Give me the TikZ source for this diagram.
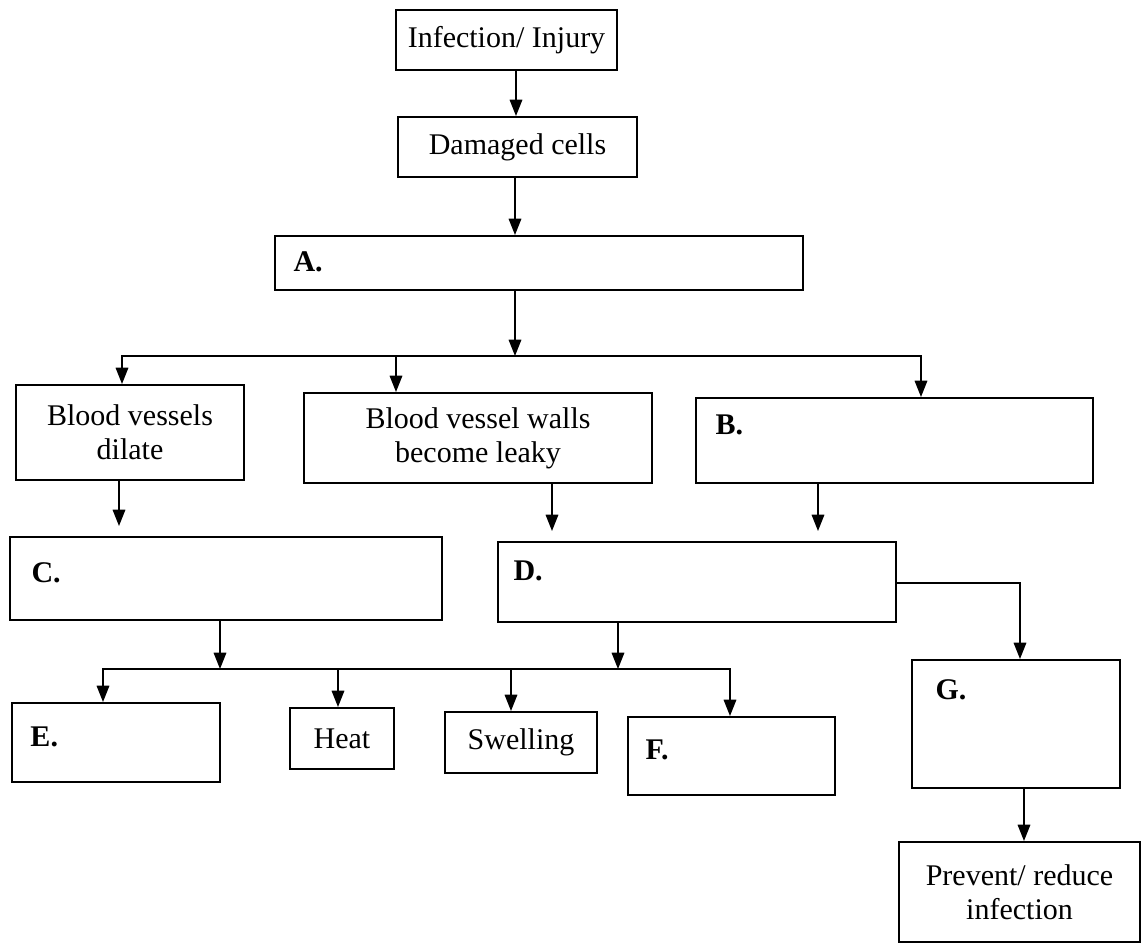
\documentclass[tikz,border=0pt]{standalone}
\usepackage{fontspec}
\setmainfont{Liberation Serif}
\usetikzlibrary{calc}
\usetikzlibrary{fit}
\usetikzlibrary{arrows.meta}
\tikzset{
	box/.style={draw, line width=0.8pt, inner sep=0pt},
	txt/.style={align=center, inner sep=0pt, font=\fontsize{12}{13.5}\selectfont},
	tag/.style={anchor=west, inner sep=0pt, font=\fontsize{12}{13.5}\selectfont\bfseries},
	flow/.style={line width=0.7pt, -{Triangle[length=6.5pt,width=5pt]}},
	bus/.style={line width=0.7pt},
}

\begin{document}
\begin{tikzpicture}[x=0.4pt,y=-0.4pt]
		\useasboundingbox (0,0) rectangle (1142,945);
		% boxes
		\node[box, fit={(396,10) (617,70)}, label={[txt]center:Infection/ Injury}] (inf) {};
		\node[box, fit={(398,117) (637,177)}, label={[txt]center:Damaged cells}] (dmg) {};
		\node[box, fit={(275,236) (803,290)}] (A) {};
		\node[box, fit={(16,385) (244,480)}, label={[txt]center:Blood vessels\\dilate}] (bv) {};
		\node[box, fit={(304,393) (652,483)}, label={[txt]center:Blood vessel walls\\become leaky}] (wl) {};
		\node[box, fit={(696,398) (1093,483)}] (B) {};
		\node[box, fit={(10,537) (442,620)}] (C) {};
		\node[box, fit={(498,542) (896,622)}] (D) {};
		\node[box, fit={(12,703) (220,782)}] (E) {};
		\node[box, fit={(290,708) (394,769)}, label={[txt]center:Heat}] (heat) {};
		\node[box, fit={(445,712) (597,773)}, label={[txt]center:Swelling}] (swl) {};
		\node[box, fit={(628,717) (835,795)}] (F) {};
		\node[box, fit={(912,660) (1120,788)}] (G) {};
		\node[box, fit={(899,842) (1140,942)}, label={[txt]center:Prevent/ reduce\\infection}] (prev) {};
		% letters to fill in
		\node[tag] (tA) at (293,262) {A.};
		\node[tag] (tB) at (715,425) {B.};
		\node[tag] (tC) at (31,573) {C.};
		\node[tag] (tD) at (513,571) {D.};
		\node[tag] (tE) at (30,737) {E.};
		\node[tag] (tF) at (645,750) {F.};
		\node[tag] (tG) at (935,690) {G.};
		% junctions
		\coordinate (hubA) at (515,356);
		\coordinate (hubC) at (220,669);
		\coordinate (hubD) at (618,669);
		% arrows
		\draw[flow] (516,0 |- inf.south) -- (516,0 |- dmg.north);
		\draw[flow] (515,0 |- dmg.south) -- (515,0 |- A.north);
		\draw[flow] (515,0 |- A.south) -- (hubA);
		\draw[flow] (hubA) -| (122,0 |- bv.north);
		\draw[flow] (hubA) -| (921,0 |- B.north);
		\draw[flow] (396,0 |- hubA) -- (396,0 |- wl.north);
		\draw[flow, shorten >=4pt] (119,0 |- bv.south) -- (119,0 |- C.north);
		\draw[flow, shorten >=4pt] (552,0 |- wl.south) -- (552,0 |- D.north);
		\draw[flow, shorten >=4pt] (818,0 |- B.south) -- (818,0 |- D.north);
		\draw[flow] (220,0 |- C.south) -- (hubC);
		\draw[flow] (618,0 |- D.south) -- (hubD);
		\draw[bus] (hubC) -- (hubD);
		\draw[flow] (hubC) -| (103,0 |- E.north);
		\draw[flow] (hubD) -| (730,0 |- F.north);
		\draw[flow] (338,0 |- hubC) -- (338,0 |- heat.north);
		\draw[flow] (511,0 |- hubC) -- (511,0 |- swl.north);
		\draw[flow] (D.east |- 0,583) -| (1020,0 |- G.north);
		\draw[flow] (1024,0 |- G.south) -- (1024,0 |- prev.north);
	\end{tikzpicture}
\end{document}
